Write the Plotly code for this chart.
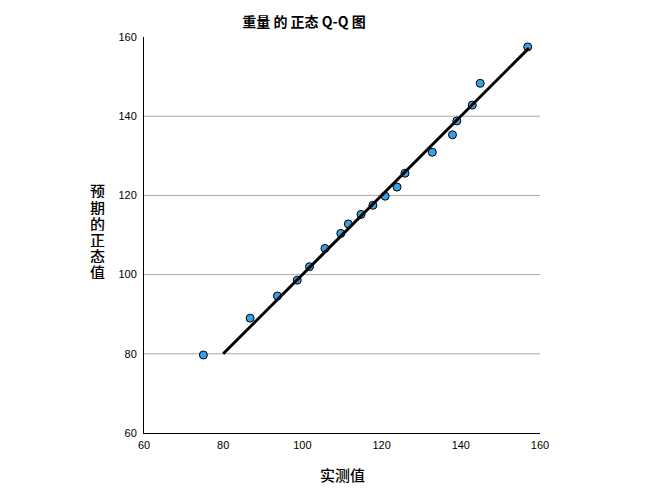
import plotly.graph_objects as go

observed = [75.0, 86.8, 93.7, 98.7, 101.8, 105.7, 109.7, 111.6, 114.8, 117.8,
            120.9, 123.9, 125.9, 132.8, 137.9, 139.0, 142.9, 144.9, 156.9]
expected = [79.7, 89.0, 94.6, 98.6, 102.0, 106.6, 110.4, 112.8, 115.2, 117.5,
            119.8, 122.1, 125.6, 130.9, 135.3, 138.8, 142.8, 148.3, 157.5]
line_x = [80.0, 157.2]
ticks = [60, 80, 100, 120, 140, 160]
grid_vals = [80, 100, 120, 140]
y_title_chars = ["预", "期", "的", "正", "态", "值"]

font_main = "Liberation Sans, Arial, Noto Sans CJK SC, sans-serif"
font_cjk = "Noto Sans CJK SC, sans-serif"

fig = go.Figure()
fig.add_trace(go.Scatter(
    x=observed, y=expected, mode="markers",
    marker=dict(size=8, color="#3a9fe6", line=dict(color="black", width=1)),
    showlegend=False, hoverinfo="x+y"))
fig.add_trace(go.Scatter(
    x=line_x, y=line_x, mode="lines",
    line=dict(color="black", width=3), showlegend=False))

for g in grid_vals:
    fig.add_shape(type="line", xref="paper", x0=0, x1=1, yref="y", y0=g, y1=g,
                  line=dict(color="#a8a8a8", width=1), layer="below")

annotations = [
    dict(text="实测值", xref="paper", yref="paper", x=0.5, y=-42/396,
         xanchor="center", yanchor="middle", showarrow=False,
         font=dict(family=font_cjk, size=15, color="black", weight=500)),
]
n = len(y_title_chars)
center_px = 231
step = 16
for i, ch in enumerate(y_title_chars):
    py = center_px + (i - (n - 1) / 2) * step
    annotations.append(dict(
        text=ch, xref="paper", yref="paper", x=-47/396, y=(433 - py)/396,
        xanchor="center", yanchor="middle", showarrow=False,
        height=15, borderpad=0,
        font=dict(family=font_cjk, size=15, color="black", weight=500)))

fig.update_layout(
    width=645, height=492,
    margin=dict(l=144, r=105, t=37, b=59),
    paper_bgcolor="white", plot_bgcolor="white",
    font=dict(family=font_main, size=11, color="black"),
    title=dict(text="<b>重量 的 正态 Q-Q 图</b>", x=304/645, xanchor="center",
               y=1-22/492, yanchor="middle",
               font=dict(family=font_cjk, size=14, color="black")),
    xaxis=dict(range=[60, 160], tickvals=ticks, showgrid=False, zeroline=False,
               showline=True, linecolor="black", linewidth=1, ticks="",
               tickfont=dict(size=11), ticklabelstandoff=2),
    yaxis=dict(range=[60, 160], tickvals=ticks, showgrid=False, zeroline=False,
               showline=True, linecolor="black", linewidth=1, ticks="",
               tickfont=dict(size=11), ticklabelstandoff=4),
    annotations=annotations,
)

fig.write_html("out.html")
